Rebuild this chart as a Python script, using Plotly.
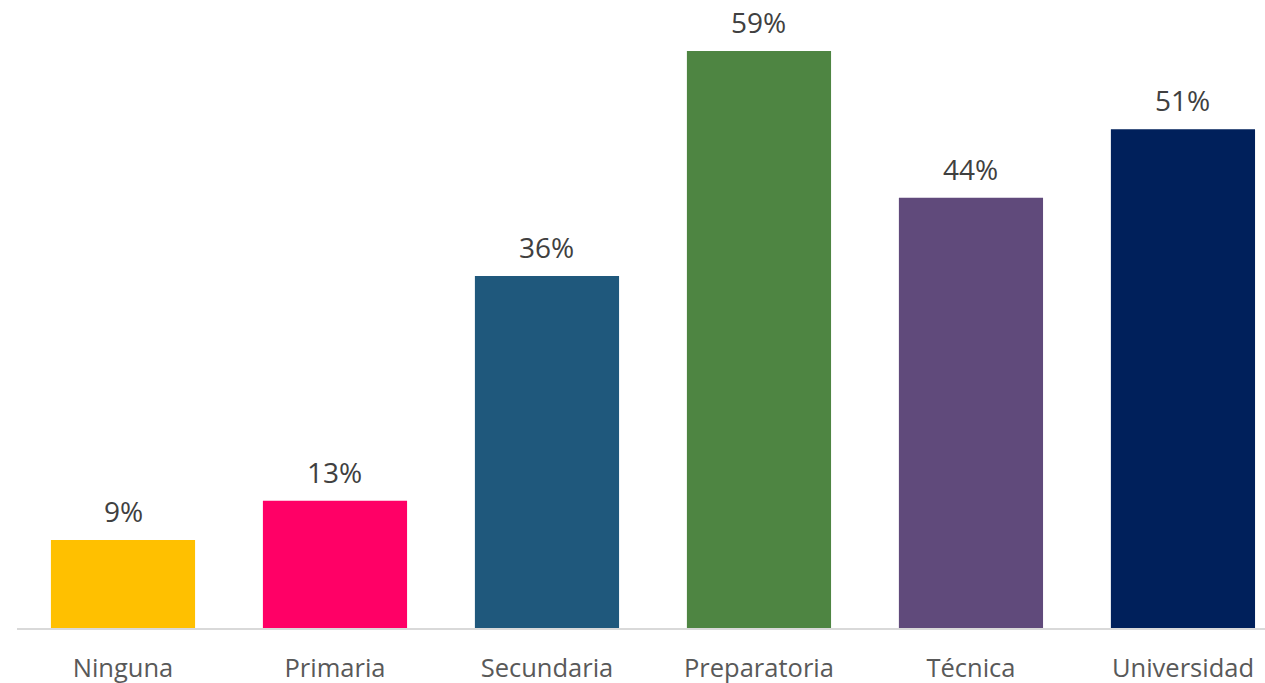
import plotly.graph_objects as go

categories = ["Ninguna", "Primaria", "Secundaria", "Preparatoria", "Técnica", "Universidad"]
values = [9, 13, 36, 59, 44, 51]
labels = ["9%", "13%", "36%", "59%", "44%", "51%"]
colors = ["#FFC000", "#FF0066", "#1F587C", "#4E8542", "#604A7B", "#00205B"]

fig = go.Figure(go.Bar(
    x=categories, y=values,
    marker=dict(color=colors, line=dict(width=0)),
    cliponaxis=False, hoverinfo="x+y",
))
for c, v, t in zip(categories, values, labels):
    fig.add_annotation(
        x=c, y=v, text=t, showarrow=False, xanchor="center", yanchor="bottom",
        yshift=8, font=dict(size=28, color="#404040", family="Open Sans"),
    )
fig.update_layout(
    width=1265, height=683,
    margin=dict(l=17, r=0, t=0, b=55),
    paper_bgcolor="white", plot_bgcolor="white",
    bargap=0.32, showlegend=False,
    font=dict(family="Open Sans", color="#595959"),
)
fig.update_xaxes(
    range=[-0.5, 5.387], showline=True, linecolor="#D9D9D9", linewidth=2,
    showgrid=False, ticks="", tickfont=dict(size=25.5, color="#595959"),
    ticklabelstandoff=16,
)
fig.update_yaxes(range=[0, 64.22], visible=False, showgrid=False)
fig.write_html("out.html", config={"displayModeBar": False},
               post_script="document.body.style.margin='0';")
